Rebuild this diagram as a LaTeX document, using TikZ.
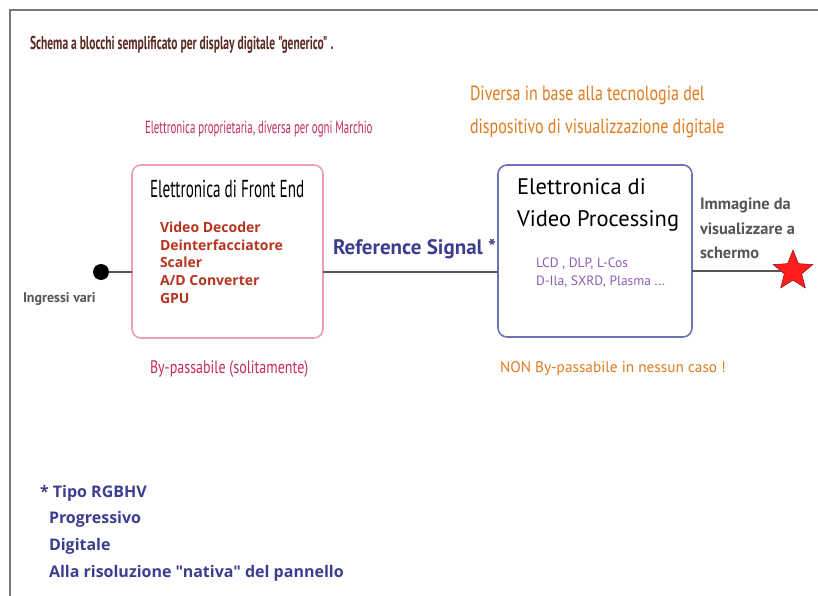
\documentclass[tikz,border=0pt]{standalone}
\usepackage{fontspec}
\setmainfont{PT Sans}
\newfontfamily\narrowfont[FakeStretch=0.78]{PT Sans}
\newfontfamily\tightfont[FakeStretch=0.62]{PT Sans}
\newfontfamily\widefont{Open Sans}
\usetikzlibrary{shapes.geometric, positioning}

\definecolor{titlebrown}{HTML}{5B2B22}
\definecolor{orangetxt}{HTML}{E07B20}
\definecolor{crimsontxt}{HTML}{C42A5C}
\definecolor{redtxt}{HTML}{B5341E}
\definecolor{navytxt}{HTML}{3D3D8F}
\definecolor{purpletxt}{HTML}{8B5DB0}
\definecolor{pinkline}{HTML}{E9A0B4}
\definecolor{blueline}{HTML}{7070B8}
\definecolor{framegray}{HTML}{777777}
\definecolor{wiregray}{HTML}{555555}

\begin{document}
\begin{tikzpicture}[
    x=1pt, y=-1pt,
    every node/.style={inner sep=0pt, outer sep=0pt, anchor=base west},
    block/.style={draw, rounded corners=9pt, line width=1.6pt, anchor=north west},
    wire/.style={draw=wiregray, line width=1.6pt},
    note/.style={font=\narrowfont\fontsize{20.5}{24}\selectfont, text=orangetxt},
    item/.style={font=\widefont\bfseries\fontsize{14}{16}\selectfont, text=redtxt},
    tech/.style={font=\fontsize{13.5}{16}\selectfont, text=purpletxt},
    outtext/.style={font=\bfseries\fontsize{16.4}{19}\selectfont, text=wiregray},
    foot/.style={font=\widefont\bfseries\fontsize{16}{19}\selectfont, text=navytxt}
  ]
  \useasboundingbox (0,0) rectangle (818,596);
  % frame
  \draw[framegray, line width=2pt] (10,596) -- (10,10) -- (818,10);

  % headings
  \node[text=titlebrown, font=\tightfont\bfseries\fontsize{18.6}{22}\selectfont] (title) at (30,50)
    {Schema a blocchi semplificato per display digitale "generico" .};
  \node[note] (tech1) at (470,101) {Diversa in base alla tecnologia del};
  \node[note] (tech2) at (470,134) {dispositivo di visualizzazione digitale};
  \node[font=\tightfont\fontsize{17.5}{20}\selectfont, text=crimsontxt] (brand) at (145,134)
    {Elettronica proprietaria, diversa per ogni Marchio};

  % front end block
  \node[block, draw=pinkline, minimum width=191pt, minimum height=173pt] (fe) at (132,165) {};
  \node[font=\tightfont\fontsize{24.5}{28}\selectfont] (fetitle) at (150,197) {Elettronica di Front End};
  \node[item] (it1) at (160,232) {Video Decoder};
  \node[item] (it2) at (160,250) {Deinterfacciatore};
  \node[item] (it3) at (160,267) {Scaler};
  \node[item] (it4) at (160,285) {A/D Converter};
  \node[item] (it5) at (160,303) {GPU};

  % video processing block
  \node[block, draw=blueline, minimum width=194pt, minimum height=172pt] (vp) at (498,165) {};
  \node[font=\fontsize{22.5}{26}\selectfont] (vptitle1) at (517,194) {Elettronica di};
  \node[font=\fontsize{22.5}{26}\selectfont] (vptitle2) at (517,226) {Video Processing};
  \node[tech] (tech3) at (536,267) {LCD , DLP, L-Cos};
  \node[tech] (tech4) at (536,285) {D-Ila, SXRD, Plasma ...};

  % input and output
  \node[circle, fill=black, minimum size=16pt, anchor=center] (in) at (101,272) {};
  \node[font=\bfseries\fontsize{14}{16}\selectfont, text=wiregray] (inlabel) at (23,302) {Ingressi vari};
  \node[star, star points=5, star point ratio=2.3, fill=red!85!pink, draw=red!50!black,
        minimum size=42pt, anchor=center] (out) at (793,271) {};
  \node[outtext] (outl1) at (700,209) {Immagine da};
  \node[outtext] (outl2) at (700,234) {visualizzare a};
  \node[outtext] (outl3) at (700,258) {schermo};

  % connections
  \coordinate (sig) at (415,272);
  \draw[wire] (in) -- (in -| fe.west);
  \draw[wire] (fe.east |- sig) -- (vp.west |- sig);
  \draw[wire] (vp.east |- out) -- (out);
  \node[font=\bfseries\fontsize{21}{24}\selectfont, text=navytxt] (siglabel) at (333,254) {Reference Signal *};

  % bypass notes
  \node[font=\narrowfont\fontsize{18}{21}\selectfont, text=crimsontxt] (bypass1) at (150,373) {By-passabile (solitamente)};
  \node[font=\fontsize{15.3}{18}\selectfont, text=orangetxt] (bypass2) at (500,372) {NON By-passabile in nessun caso !};

  % footnote
  \node[foot] (f1) at (40,497) {* Tipo RGBHV};
  \node[foot] (f2) at (49,523) {Progressivo};
  \node[foot] (f3) at (49,550) {Digitale};
  \node[foot] (f4) at (49,577) {Alla risoluzione "nativa" del pannello};
\end{tikzpicture}
\end{document}
